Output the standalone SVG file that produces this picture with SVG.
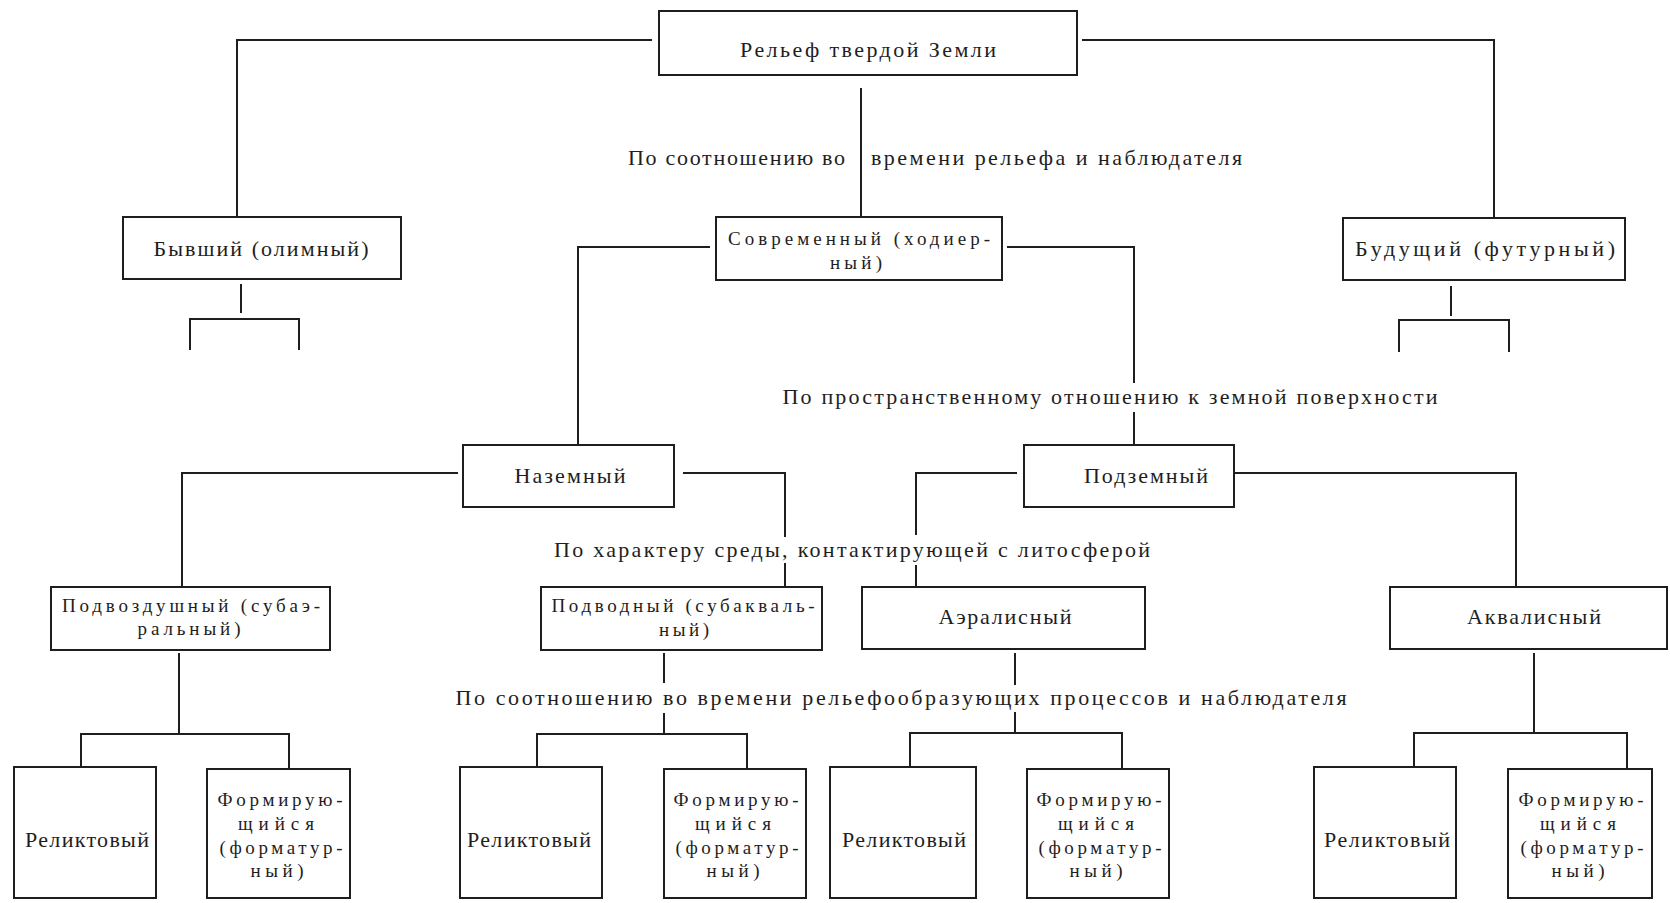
<svg xmlns="http://www.w3.org/2000/svg" width="1670" height="903" viewBox="0 0 1670 903">
<style>
.b{fill:none;stroke:#1e1e1e;stroke-width:2}
.c{fill:none;stroke:#1e1e1e;stroke-width:2}
text{font-family:"Liberation Serif","DejaVu Serif",serif;font-size:22px;fill:#1e1e1e;text-anchor:middle}
.l{text-anchor:start}
.s{font-size:19px}
</style>
<rect width="1670" height="903" fill="#fff"/>
<g id="connectors">
<path class="c" d="M652,40H237V216"/>
<path class="c" d="M1082,40H1494V218"/>
<path class="c" d="M861,88V217"/>
<path class="c" d="M241,284V313M190,350V319H299V350"/>
<path class="c" d="M1451,286V316M1399,352V320H1509V352"/>
<path class="c" d="M710,247H578V445"/>
<path class="c" d="M1007,247H1134V383M1134,412V445"/>
<path class="c" d="M458,473H182V587"/>
<path class="c" d="M683,473H785V537M785,563V587"/>
<path class="c" d="M1017,473H916V535M916,565V587"/>
<path class="c" d="M1234,473H1516V587"/>
<path class="c" d="M179,653V734M81,767V734H289V769"/>
<path class="c" d="M664,653V683M664,713V734M537,767V734H747V769"/>
<path class="c" d="M1015,653V685M1015,712V733M910,767V733H1122V769"/>
<path class="c" d="M1534,653V733M1414,767V733H1627V769"/>
</g>
<g id="labels">
<text class="l" x="628" y="165" textLength="217" lengthAdjust="spacing">По соотношению во</text>
<text class="l" x="871" y="165" textLength="371" lengthAdjust="spacing">времени рельефа и наблюдателя</text>
<text x="1110" y="404" textLength="655" lengthAdjust="spacing">По пространственному отношению к земной поверхности</text>
<text x="852" y="557" textLength="596" lengthAdjust="spacing">По характеру среды, контактирующей с литосферой</text>
<text x="901" y="705" textLength="891" lengthAdjust="spacing">По соотношению во времени рельефообразующих процессов и наблюдателя</text>
</g>
<g id="n-root"><rect class="b" x="659" y="11" width="418" height="64"/><text x="868" y="57" textLength="256" lengthAdjust="spacing">Рельеф твердой Земли</text></g>
<g id="n-past"><rect class="b" x="123" y="217" width="278" height="62"/><text x="261" y="256" textLength="215" lengthAdjust="spacing">Бывший (олимный)</text></g>
<g id="n-present"><rect class="b" x="716" y="217" width="286" height="63"/><text class="s" x="859" y="245" textLength="262" lengthAdjust="spacing">Современный (ходиер-</text><text class="s" x="856" y="269" textLength="52" lengthAdjust="spacing">ный)</text></g>
<g id="n-future"><rect class="b" x="1343" y="218" width="282" height="62"/><text x="1485" y="256" textLength="260" lengthAdjust="spacing">Будущий (футурный)</text></g>
<g id="n-ground"><rect class="b" x="463" y="445" width="211" height="62"/><text x="570" y="483" textLength="111" lengthAdjust="spacing">Наземный</text></g>
<g id="n-under"><rect class="b" x="1024" y="445" width="210" height="62"/><text x="1146" y="483" textLength="124" lengthAdjust="spacing">Подземный</text></g>
<g id="n-subaer"><rect class="b" x="51" y="587" width="279" height="63"/><text class="s" x="191" y="612" textLength="258" lengthAdjust="spacing">Подвоздушный (субаэ-</text><text class="s" x="189" y="635" textLength="103" lengthAdjust="spacing">ральный)</text></g>
<g id="n-subaq"><rect class="b" x="541" y="587" width="281" height="63"/><text class="s" x="683" y="612" textLength="263" lengthAdjust="spacing">Подводный (субакваль-</text><text class="s" x="684" y="636" textLength="50" lengthAdjust="spacing">ный)</text></g>
<g id="n-aeral"><rect class="b" x="862" y="587" width="283" height="62"/><text x="1005" y="624" textLength="133" lengthAdjust="spacing">Аэралисный</text></g>
<g id="n-aqual"><rect class="b" x="1390" y="587" width="277" height="62"/><text x="1534" y="624" textLength="134" lengthAdjust="spacing">Аквалисный</text></g>
<g id="n-rel1"><rect class="b" x="14" y="767" width="142" height="131"/><text x="87" y="847" textLength="124" lengthAdjust="spacing">Реликтовый</text></g>
<g id="n-form1"><rect class="b" x="207" y="769" width="143" height="129"/><text class="s" x="280" y="806" textLength="125" lengthAdjust="spacing">Формирую-</text><text class="s" x="276" y="830" textLength="76" lengthAdjust="spacing">щийся</text><text class="s" x="281" y="854" textLength="123" lengthAdjust="spacing">(форматур-</text><text class="s" x="277" y="877" textLength="53" lengthAdjust="spacing">ный)</text></g>
<g id="n-rel2"><rect class="b" x="460" y="767" width="142" height="131"/><text x="529" y="847" textLength="124" lengthAdjust="spacing">Реликтовый</text></g>
<g id="n-form2"><rect class="b" x="664" y="769" width="142" height="129"/><text class="s" x="736" y="806" textLength="125" lengthAdjust="spacing">Формирую-</text><text class="s" x="733" y="830" textLength="76" lengthAdjust="spacing">щийся</text><text class="s" x="737" y="854" textLength="123" lengthAdjust="spacing">(форматур-</text><text class="s" x="733" y="877" textLength="53" lengthAdjust="spacing">ный)</text></g>
<g id="n-rel3"><rect class="b" x="830" y="767" width="146" height="131"/><text x="904" y="847" textLength="124" lengthAdjust="spacing">Реликтовый</text></g>
<g id="n-form3"><rect class="b" x="1027" y="769" width="142" height="129"/><text class="s" x="1099" y="806" textLength="125" lengthAdjust="spacing">Формирую-</text><text class="s" x="1096" y="830" textLength="76" lengthAdjust="spacing">щийся</text><text class="s" x="1100" y="854" textLength="123" lengthAdjust="spacing">(форматур-</text><text class="s" x="1096" y="877" textLength="53" lengthAdjust="spacing">ный)</text></g>
<g id="n-rel4"><rect class="b" x="1314" y="767" width="142" height="131"/><text x="1387" y="847" textLength="126" lengthAdjust="spacing">Реликтовый</text></g>
<g id="n-form4"><rect class="b" x="1508" y="769" width="144" height="129"/><text class="s" x="1581" y="806" textLength="125" lengthAdjust="spacing">Формирую-</text><text class="s" x="1578" y="830" textLength="76" lengthAdjust="spacing">щийся</text><text class="s" x="1582" y="854" textLength="123" lengthAdjust="spacing">(форматур-</text><text class="s" x="1578" y="877" textLength="53" lengthAdjust="spacing">ный)</text></g>
</svg>
